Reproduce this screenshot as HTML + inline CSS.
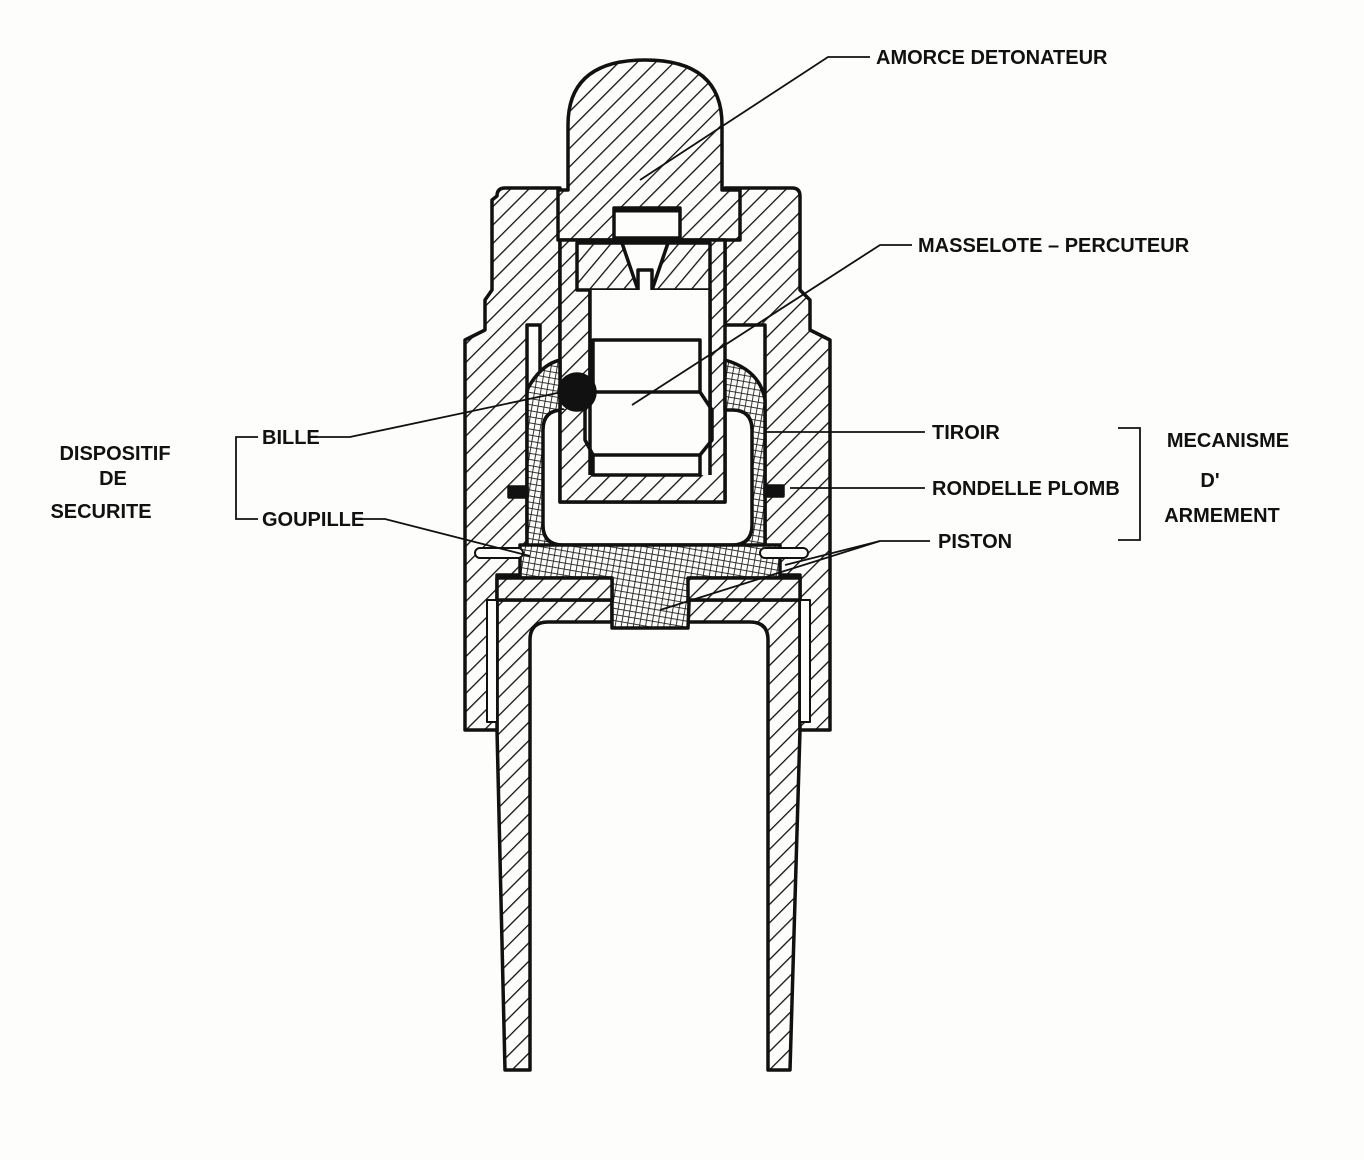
<!DOCTYPE html>
<html><head><meta charset="utf-8"><style>
html,body{margin:0;padding:0;background:#fdfdfb;}
svg{display:block}
text{font-family:"Liberation Sans Narrow","Liberation Sans",sans-serif;font-weight:bold;font-size:20px;fill:#111;}
</style></head><body>
<svg width="1364" height="1160" viewBox="0 0 1364 1160" xmlns="http://www.w3.org/2000/svg">
<defs>
<pattern id="h" width="13" height="13" patternUnits="userSpaceOnUse" patternTransform="rotate(45)">
<rect width="13" height="13" fill="#fdfdfb"/><line x1="0" y1="0" x2="0" y2="13" stroke="#111" stroke-width="2.6"/></pattern>
<pattern id="h2" width="13" height="13" patternUnits="userSpaceOnUse" patternTransform="rotate(40)">
<rect width="13" height="13" fill="#fdfdfb"/><line x1="0" y1="0" x2="0" y2="13" stroke="#111" stroke-width="2.6"/></pattern>
<pattern id="x" width="6" height="6" patternUnits="userSpaceOnUse" patternTransform="rotate(10)">
<rect width="6" height="6" fill="#fdfdfb"/><line x1="0" y1="0" x2="0" y2="6" stroke="#222" stroke-width="1.8"/><line x1="0" y1="0" x2="6" y2="0" stroke="#222" stroke-width="1.8"/></pattern>
</defs>
<rect width="1364" height="1160" fill="#fdfdfb"/>
<g stroke="#111" stroke-width="3.5" stroke-linejoin="round">
<!-- tube walls -->
<path d="M497 600 L497 730 L505 1070 L530 1070 L530 640 Q530 622 548 622 L612 622 L612 600 Z" fill="url(#h)"/>
<path d="M800 600 L800 730 L790 1070 L768 1070 L768 640 Q768 622 750 622 L688 622 L688 600 Z" fill="url(#h)"/>
<!-- outer body -->
<path d="M497 196 Q497 188 505 188 L560 188 L560 400 L540 400 L540 325 L527 325 L527 575 L497 575 L497 730 L465 730 L465 340 L485 330 L485 300 L492 290 L492 200 Z" fill="url(#h)"/>
<path d="M800 196 Q800 188 792 188 L725 188 L725 325 L765 325 L765 575 L800 575 L800 730 L830 730 L830 340 L810 330 L810 300 L800 290 Z" fill="url(#h)"/>
<!-- white gap strips -->
<rect x="487" y="600" width="10" height="122" fill="#fdfdfb" stroke-width="2"/>
<rect x="800" y="600" width="10" height="122" fill="#fdfdfb" stroke-width="2"/>
<!-- cap -->
<path d="M568 190 L568 125 Q568 60 645 60 Q722 60 722 125 L722 190 L740 190 L740 240 L558 240 L558 190 Z" fill="url(#h)"/>
<rect x="614" y="208" width="66" height="30" fill="#fdfdfb"/>
<line x1="614" y1="210" x2="680" y2="210" stroke-width="5"/>
<!-- inner sleeve (U cup) -->
<path d="M560 240 L725 240 L725 502 L560 502 Z" fill="url(#h)"/>
<rect x="590" y="290" width="120" height="185" fill="#fdfdfb"/>
<!-- striker block -->
<path d="M577 243 L710 243 L710 290 L577 290 Z" fill="url(#h2)"/>
<path d="M622 243 L668 243 L652 290 L638 290 Z" fill="#fdfdfb"/>
<rect x="638" y="270" width="14" height="75" fill="#fdfdfb"/>
<!-- tiroir -->
<path d="M527 390 Q540 365 560 360 L560 502 L725 502 L725 360 Q760 370 765 400 L765 575 L527 575 Z" fill="url(#x)"/>
<path d="M543 430 Q543 410 563 410 L560 410 L560 502 L725 502 L725 410 L732 410 Q752 410 752 430 L752 525 Q752 545 732 545 L563 545 Q543 545 543 525 Z" fill="#fdfdfb"/>
<path d="M560 410 L560 502 L725 502 L725 410" fill="url(#h)"/>
<rect x="590" y="290" width="120" height="185" fill="#fdfdfb" stroke="none"/>
<!-- masselote -->
<path d="M593 340 L700 340 L700 392 L712 410 L712 440 L700 455 L700 475 L593 475 L593 455 L585 440 L585 410 L593 392 Z" fill="#fdfdfb"/>
<line x1="593" y1="392" x2="700" y2="392"/><line x1="593" y1="455" x2="700" y2="455"/>
<line x1="590" y1="290" x2="590" y2="475"/><line x1="710" y1="290" x2="710" y2="475"/>
<!-- bille -->
<circle cx="577" cy="392" r="18" fill="#111"/>
<!-- piston -->
<path d="M520 545 L780 545 L780 578 L690 578 L688 628 L612 628 L612 578 L520 578 Z" fill="url(#x)"/>
<rect x="497" y="578" width="115" height="22" fill="url(#h)"/>
<rect x="688" y="578" width="112" height="22" fill="url(#h)"/>
<!-- pins and rondelles -->
<rect x="475" y="548" width="48" height="10" rx="5" fill="#fdfdfb" stroke-width="2"/>
<rect x="760" y="548" width="48" height="10" rx="5" fill="#fdfdfb" stroke-width="2"/>
<rect x="509" y="487" width="18" height="10" fill="#111"/>
<rect x="765" y="486" width="18" height="10" fill="#111"/>
</g>
<!-- leader lines -->
<g stroke="#111" stroke-width="1.8" fill="none">
<path d="M870 57 L828 57 L640 180"/>
<path d="M912 245 L880 245 L632 405"/>
<path d="M925 432 L765 432"/>
<path d="M925 488 L790 488"/>
<path d="M930 541 L880 541 L785 565"/>
<path d="M880 541 L660 610"/>
<path d="M318 437 L350 437 L562 392"/>
<path d="M357 519 L385 519 L530 556"/>
<path d="M258 437 L236 437 L236 519 L258 519"/>
<path d="M1118 428 L1140 428 L1140 540 L1118 540"/>
</g>
<text x="876" y="64">AMORCE  DETONATEUR</text>
<text x="918" y="252">MASSELOTE – PERCUTEUR</text>
<text x="932" y="439">TIROIR</text>
<text x="932" y="495">RONDELLE  PLOMB</text>
<text x="938" y="548">PISTON</text>
<text x="262" y="444">BILLE</text>
<text x="262" y="526">GOUPILLE</text>
<text x="115" y="460" text-anchor="middle">DISPOSITIF</text>
<text x="113" y="485" text-anchor="middle">DE</text>
<text x="101" y="518" text-anchor="middle">SECURITE</text>
<text x="1228" y="447" text-anchor="middle">MECANISME</text>
<text x="1210" y="487" text-anchor="middle">D'</text>
<text x="1222" y="522" text-anchor="middle">ARMEMENT</text>
</svg>
</body></html>
